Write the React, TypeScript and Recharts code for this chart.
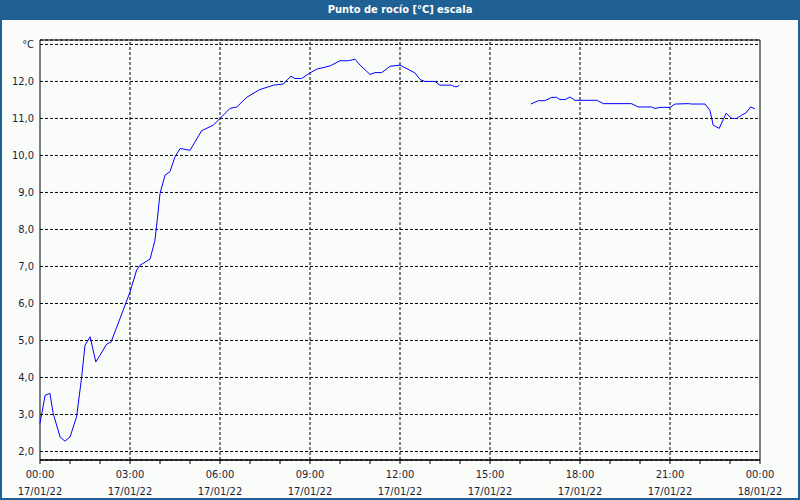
import { LineChart, Line, XAxis, YAxis, CartesianGrid, ReferenceLine, ReferenceArea } from 'recharts'

// hours since 17/01/22 00:00
const hours = [
  0, 0.17, 0.33, 0.44, 0.67, 0.83, 1.0, 1.22, 1.39, 1.5, 1.67, 1.86, 2.0, 2.22, 2.37, 2.67,
  3.0, 3.22, 3.33, 3.67, 3.83, 3.91, 4.0, 4.17, 4.33, 4.5, 4.67, 5.0, 5.39, 5.78, 6.0, 6.33,
  6.56, 6.89, 7.28, 7.33, 7.78, 8.11, 8.36, 8.5, 8.72, 9.0, 9.22, 9.67, 10.0, 10.28, 10.5,
  10.67, 11.0, 11.17, 11.39, 11.67, 12.0, 12.5, 12.67, 12.83, 13.17, 13.33, 13.72, 13.81,
  13.91, 13.98,
  15.0,
  16.36, 16.61, 16.83, 17.06, 17.22, 17.33, 17.5, 17.67, 17.83, 18.56, 18.78, 19.72, 19.94,
  20.39, 20.5, 20.67, 21.0, 21.17, 21.61, 21.72, 22.17, 22.33, 22.44, 22.64, 22.87, 23.06,
  23.22, 23.39, 23.53, 23.69, 23.83,
]

// dew point °C (null = no data, leaves a gap)
const dewPoint: (number | null)[] = [
  2.76, 3.52, 3.57, 3.03, 2.39, 2.28, 2.39, 2.94, 4.02, 4.87, 5.1, 4.42, 4.6, 4.9, 4.96, 5.6,
  6.31, 6.9, 7.03, 7.2, 7.7, 8.27, 8.97, 9.47, 9.56, 9.96, 10.19, 10.14, 10.67, 10.82, 11.0, 11.27,
  11.31, 11.57, 11.76, 11.78, 11.9, 11.93, 12.14, 12.08, 12.08, 12.23, 12.33, 12.42, 12.56, 12.56, 12.6,
  12.44, 12.19, 12.24, 12.24, 12.41, 12.44, 12.23, 12.05, 12.0, 12.0, 11.9, 11.9, 11.86,
  11.86, 11.9,
  null,
  11.39, 11.48, 11.48, 11.57, 11.57, 11.51, 11.51, 11.58, 11.49, 11.49, 11.4, 11.4, 11.31,
  11.31, 11.27, 11.3, 11.3, 11.39, 11.4, 11.39, 11.39, 11.22, 10.82, 10.73, 11.14, 11.0,
  11.0, 11.09, 11.15, 11.31, 11.26,
]

const hourTicks = [0, 1, 2, 3, 4, 5, 6, 7, 8, 9, 10, 11, 12, 13, 14, 15, 16, 17, 18, 19, 20, 21, 22, 23, 24]
const majorHours = [0, 3, 6, 9, 12, 15, 18, 21, 24]
const timeLabels = ['00:00', '03:00', '06:00', '09:00', '12:00', '15:00', '18:00', '21:00', '00:00']
const dateLabels = ['17/01/22', '17/01/22', '17/01/22', '17/01/22', '17/01/22', '17/01/22', '17/01/22', '17/01/22', '18/01/22']
const yTicks = [2, 3, 4, 5, 6, 7, 8, 9, 10, 11, 12, 13]

const Y_MIN = 1.77
const Y_MAX = 13.12
const FONT = '"DejaVu Sans Condensed", "DejaVu Sans", sans-serif'
const TEXT_COLOR = '#1a1f3a'
const FRAME_BLUE = '#1f6194'

const data = hours.map((h, i) => ({ hour: h, value: dewPoint[i] }))

const HourTick = ({ x, y, payload }: any) => {
  const idx = majorHours.indexOf(payload.value)
  if (idx < 0) return null
  return (
    <text x={x} y={y} textAnchor="middle" fill={TEXT_COLOR} fontSize={11} fontFamily={FONT}>
      <tspan x={x} dy={12}>{timeLabels[idx]}</tspan>
      <tspan x={x} dy={17}>{dateLabels[idx]}</tspan>
    </text>
  )
}

const formatY = (v: number) => (v === 13 ? '°C' : v.toFixed(1).replace('.', ','))

export default function App() {
  return (
    <div style={{ position: 'absolute', left: 0, top: 0, width: 800, height: 500, background: '#fafcfa', fontFamily: FONT }}>
      <div
        style={{
          position: 'absolute', left: 0, top: 0, width: 800, height: 20, background: FRAME_BLUE,
          color: '#fff', fontWeight: 'bold', fontSize: 11, lineHeight: '20px', textAlign: 'center',
        }}
      >
        Punto de rocío [°C] escala
      </div>
      <div style={{ position: 'absolute', left: 0, top: 20 }}>
        <LineChart width={800} height={480} data={data} margin={{ top: 20, right: 40, left: 0, bottom: 0 }}>
          <CartesianGrid vertical={false} stroke="#000" strokeDasharray="3 2" />
          {majorHours.slice(1, -1).map((h) => (
            <ReferenceLine key={h} x={h} stroke="#000" strokeDasharray="3 2" />
          ))}
          <XAxis
            dataKey="hour"
            type="number"
            domain={[0, 24]}
            ticks={hourTicks}
            interval={0}
            height={40}
            tickSize={4}
            tickMargin={2}
            tick={HourTick}
            stroke="#000"
          />
          <YAxis
            type="number"
            domain={[Y_MIN, Y_MAX]}
            ticks={yTicks}
            interval={0}
            allowDataOverflow
            width={40}
            axisLine={false}
            tickLine={false}
            tickSize={6}
            tickMargin={0}
            tickFormatter={formatY}
            tick={{ fill: TEXT_COLOR, fontSize: 11, fontFamily: FONT }}
          />
          <ReferenceArea x1={0} x2={24} y1={Y_MIN} y2={Y_MAX} fill="none" stroke="#000" strokeOpacity={1} />
          <Line
            type="linear"
            dataKey="value"
            stroke="#0000ff"
            strokeWidth={1}
            dot={false}
            connectNulls={false}
            isAnimationActive={false}
          />
        </LineChart>
      </div>
      <div
        style={{
          position: 'absolute', left: 0, top: 0, width: 800, height: 500, boxSizing: 'border-box',
          borderLeft: `2px solid ${FRAME_BLUE}`, borderRight: `2px solid ${FRAME_BLUE}`, borderBottom: `2px solid ${FRAME_BLUE}`,
          pointerEvents: 'none',
        }}
      />
    </div>
  )
}
